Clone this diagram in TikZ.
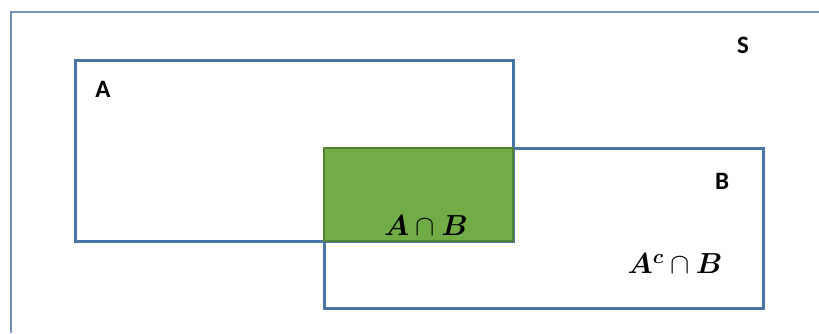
\RequirePackage{fix-cm}
\documentclass[tikz,border=0pt]{standalone}
\usepackage{fontspec}
\usepackage{bm}
\setmainfont{Carlito}
\usetikzlibrary{positioning}
\definecolor{setblue}{HTML}{4674A6}
\definecolor{frameblue}{HTML}{7393BA}
\definecolor{interfill}{HTML}{70AD47}
\definecolor{interdraw}{HTML}{548235}
\tikzset{>=latex,
  setbox/.style={draw=setblue,line width=3pt},
  setlabel/.style={font=\fontsize{25}{30}\selectfont\bfseries,inner sep=0pt},
  mathlabel/.style={font=\fontsize{29}{35}\selectfont,inner sep=0pt}}
\begin{document}
\begin{tikzpicture}[x=1pt,y=-1pt]
    \useasboundingbox (0,0) rectangle (819,333);
    \draw [frameblue,line width=1.5pt] (819,12) -- (11,12) -- (11,333);
    \draw [setbox] (75,60) rectangle (513,241);
    \draw [setbox] (324,148) rectangle (763,308);
    \draw [fill=interfill,draw=interdraw,line width=2.4pt] (324,148) rectangle (513,241);
    \node [setlabel] (s) at (743,45) {S};
    \node [setlabel] (a) at (103,89) {A};
    \node [setlabel] (b) at (722,181) {B};
    \node [mathlabel] (ab) at (426,226) {$\bm{A}\cap\bm{B}$};
    \node [mathlabel] (acb) at (675,264) {$\bm{A}^{\bm{c}}\cap\bm{B}$};
\end{tikzpicture}
\end{document}
